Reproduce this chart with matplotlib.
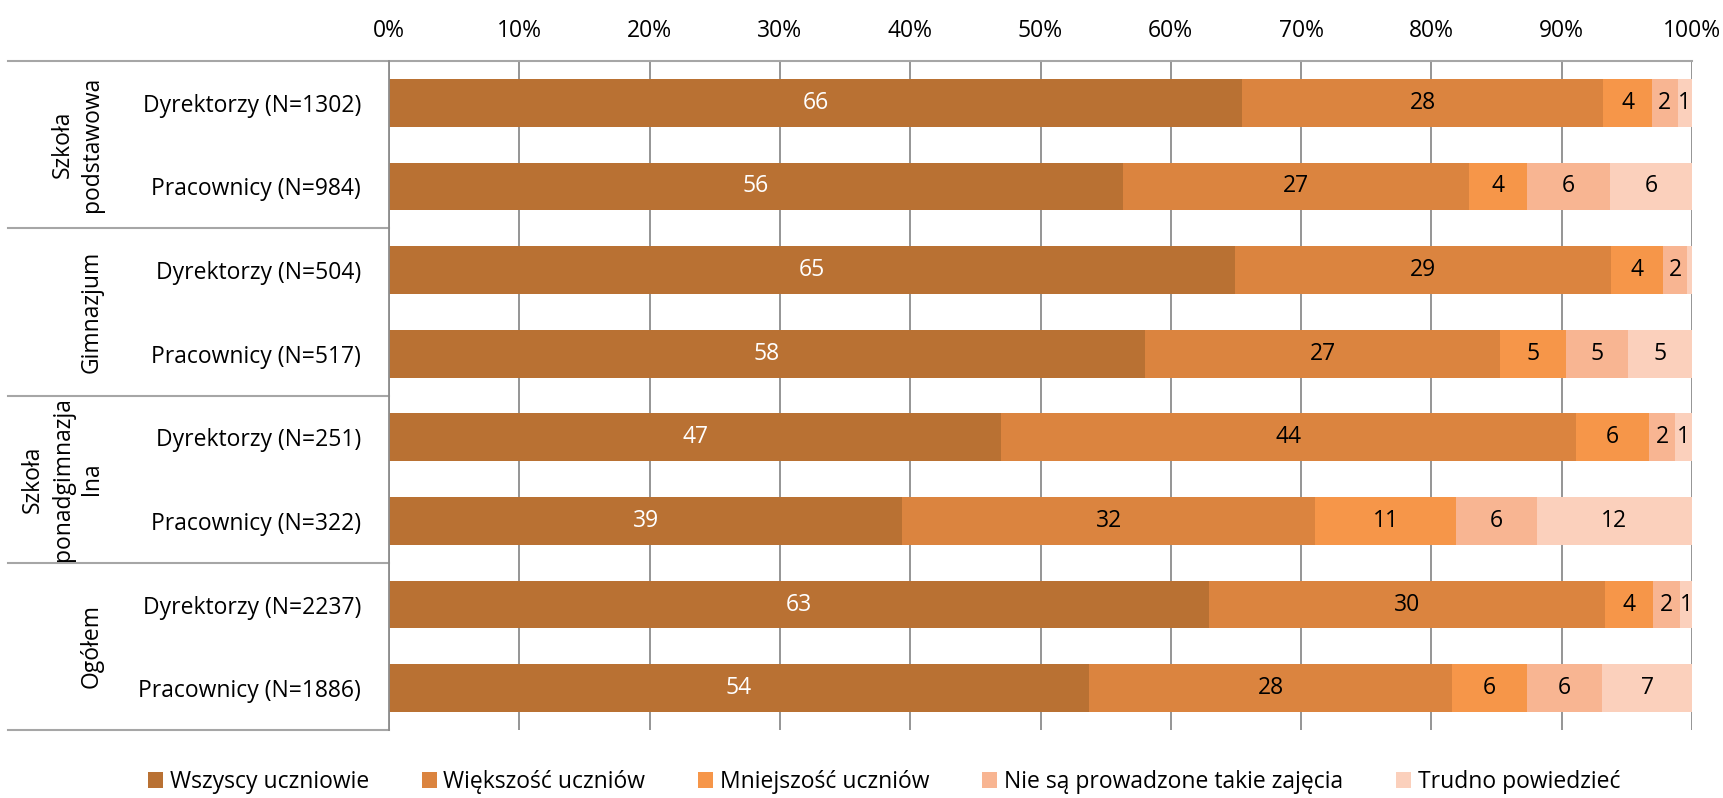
import numpy as np
import matplotlib
matplotlib.use("Agg")
import matplotlib.pyplot as plt
from matplotlib.patches import Patch

plt.rcParams["font.family"] = ["Open Sans", "DejaVu Sans"]

# -------------------------
# Data (percent of respondents)
# -------------------------
row_labels = [
    "Dyrektorzy (N=1302)", "Pracownicy (N=984)",
    "Dyrektorzy (N=504)", "Pracownicy (N=517)",
    "Dyrektorzy (N=251)", "Pracownicy (N=322)",
    "Dyrektorzy (N=2237)", "Pracownicy (N=1886)",
]
group_labels = ["Szkoła\npodstawowa", "Gimnazjum", "Szkoła\nponadgimnazja\nlna", "Ogółem"]

series_names = [
    "Wszyscy uczniowie",
    "Większość uczniów",
    "Mniejszość uczniów",
    "Nie są prowadzone takie zajęcia",
    "Trudno powiedzieć",
]
wszyscy = [65.5, 56.3, 64.9, 58.0, 47.0, 39.4, 62.9, 53.7]
wiekszosc = [27.7, 26.6, 28.9, 27.3, 44.1, 31.7, 30.4, 27.9]
mniejszosc = [3.7, 4.4, 4.0, 5.0, 5.6, 10.8, 3.7, 5.7]
nie_sa = [2.0, 6.4, 1.8, 4.8, 2.0, 6.2, 2.1, 5.8]
trudno = [1.1, 6.3, 0.4, 4.9, 1.3, 11.9, 0.9, 6.9]

series = [wszyscy, wiekszosc, mniejszosc, nie_sa, trudno]
colors = ["#B97133", "#DB843F", "#F69649", "#F8B592", "#FBD0BC"]
text_colors = ["white", "black", "black", "black", "black"]

# -------------------------
# Plot
# -------------------------
W, H = 1723, 798
fig = plt.figure(figsize=(W / 100, H / 100), dpi=100)
ax = fig.add_axes([389 / W, 1 - 730 / H, (1692 - 389) / W, (730 - 61) / H])

y = np.arange(len(row_labels))
left = np.zeros(len(row_labels))
fs = 16.5
for vals, col, tcol in zip(series, colors, text_colors):
    vals = np.array(vals)
    ax.barh(y, vals, left=left, height=0.57, color=col, edgecolor="none", zorder=2)
    for yi, l, v in zip(y, left, vals):
        if v >= 0.5:
            ax.text(l + v / 2, yi, f"{v:.0f}", ha="center", va="center",
                    color=tcol, fontsize=fs, zorder=3)
    left += vals

ax.set_xlim(0, 100)
ax.set_ylim(len(row_labels) - 0.5, -0.5)
ax.set_xticks(np.arange(0, 101, 10))
ax.set_xticklabels([f"{t}%" for t in range(0, 101, 10)], fontsize=fs)
ax.xaxis.tick_top()
ax.tick_params(axis="x", length=0, pad=13)
ax.set_yticks(y)
ax.set_yticklabels(row_labels, fontsize=fs)
ax.tick_params(axis="y", length=0, pad=20)
ax.grid(axis="x", color="#8C8C8C", linewidth=1.3, zorder=0)
ax.set_axisbelow(True)
for s in ["top", "right", "bottom"]:
    ax.spines[s].set_visible(False)
ax.spines["left"].set_color("#8C8C8C")
ax.spines["left"].set_linewidth(1.3)

# group separators on the left
x0 = (8 - 389) / (1692 - 389)
trans = ax.get_yaxis_transform()
ax.plot([x0, 1], [-0.5, -0.5], transform=trans, color="#A6A6A6",
        linewidth=1.5, clip_on=False, zorder=1)
for b in [1.5, 3.5, 5.5, 7.5]:
    ax.plot([x0, 0], [b, b], transform=trans, color="#A6A6A6",
            linewidth=1.5, clip_on=False)

xg = (104 - 389) / (1692 - 389)
for i, g in enumerate(group_labels):
    ax.text(xg, 2 * i + 0.5, g, transform=trans, rotation=90, ha="right",
            va="center", multialignment="center", fontsize=fs, linespacing=1.3)

handles = [Patch(facecolor=c, edgecolor="none") for c in colors]
fig.legend(handles, series_names, loc="center", bbox_to_anchor=(884 / W, 1 - 782 / H),
           ncol=5, frameon=False, fontsize=fs, handlelength=0.65, handleheight=0.65,
           handletextpad=0.3, columnspacing=2.3)

fig.savefig("out.png", dpi=100)
